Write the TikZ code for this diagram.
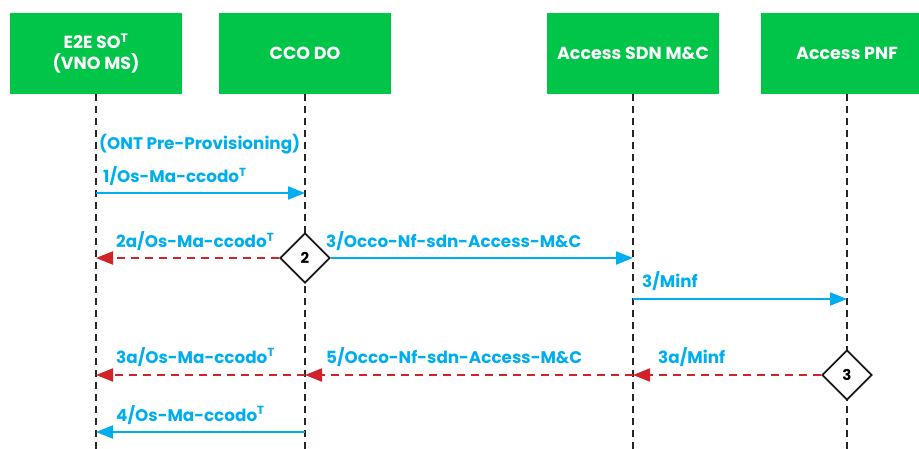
\documentclass[tikz,border=0pt]{standalone}
\usepackage{fontspec}
\setmainfont{Poppins}
\usetikzlibrary{arrows.meta, shapes.geometric}
\definecolor{actorgreen}{HTML}{00C549}
\definecolor{msgblue}{HTML}{00AEEF}
\definecolor{failred}{HTML}{D2232A}

\begin{document}
\begin{tikzpicture}[x=1pt, y=-1pt,
    actor/.style={fill=actorgreen, text=white, font=\bfseries\fontsize{17.5}{21}\selectfont,
        minimum width=172pt, minimum height=81pt, align=center, inner sep=0pt},
    life/.style={black!85, line width=2.2pt, dash pattern=on 7pt off 5pt},
    msg/.style={msgblue, line width=1.8pt, -{Triangle[length=17pt, width=13pt]}},
    fail/.style={failred, line width=1.8pt, dash pattern=on 8pt off 6pt,
        -{Triangle[length=17pt, width=13pt]}},
    lbl/.style={msgblue, font=\bfseries\fontsize{16.8}{19}\selectfont, anchor=base west, inner sep=0pt},
    choice/.style={diamond, draw=black!90, line width=1.8pt, fill=white, minimum size=50pt,
        inner sep=0pt, font=\bfseries\fontsize{15}{17}\selectfont}]
    \useasboundingbox (0,0) rectangle (919,449);

    % Akteure
    \node[actor] (e2e) at (96,53.5) {E2E SO\textsuperscript{T}\\(VNO MS)};
    \node[actor] (cco) at (305,53.5) {CCO DO};
    \node[actor] (sdn) at (633,53.5) {Access SDN M\&C};
    \node[actor] (pnf) at (847,53.5) {Access PNF};

    % Lebenslinien
    \coordinate (bottom) at (0,449);
    \foreach \a in {e2e, cco, sdn, pnf}
        \draw[life] (\a.south) -- (\a.south |- bottom);

    % Zeilen der Nachrichten
    \coordinate (r1) at (0,193);
    \coordinate (r2) at (0,258);
    \coordinate (r3) at (0,299);
    \coordinate (r4) at (0,375);
    \coordinate (r5) at (0,432);

    % Entscheidungen
    \node[choice] (d2) at (cco.south |- r2) {2};
    \node[choice] (d3) at (pnf.south |- r4) {3};

    % 1
    \node[lbl] (pre) at (99,150) {(ONT Pre-Provisioning)};
    \node[lbl] (l1) at (103,183) {1/Os-Ma-ccodo\textsuperscript{T}};
    \draw[msg] (e2e.south |- r1) -- (cco.south |- r1);

    % 2a, 3
    \node[lbl] (l2a) at (116,248) {2a/Os-Ma-ccodo\textsuperscript{T}};
    \draw[fail] (d2.west) -- (e2e.south |- r2);
    \node[lbl] (l3) at (326,248) {3/Occo-Nf-sdn-Access-M\&C};
    \draw[msg] (d2.east) -- (sdn.south |- r2);

    % 3 Minf
    \node[lbl] (l3m) at (642,288) {3/Minf};
    \draw[msg] (sdn.south |- r3) -- (pnf.south |- r3);

    % 3a, 5
    \node[lbl] (l3am) at (658,363) {3a/Minf};
    \draw[fail] (d3.west) -- (sdn.south |- r4);
    \node[lbl] (l5) at (326,363) {5/Occo-Nf-sdn-Access-M\&C};
    \draw[fail] (sdn.south |- r4) -- (cco.south |- r4);
    \node[lbl] (l3a) at (116,363) {3a/Os-Ma-ccodo\textsuperscript{T}};
    \draw[fail] (cco.south |- r4) -- (e2e.south |- r4);

    % 4
    \node[lbl] (l4) at (116,421) {4/Os-Ma-ccodo\textsuperscript{T}};
    \draw[msg] (cco.south |- r5) -- (e2e.south |- r5);
\end{tikzpicture}
\end{document}
